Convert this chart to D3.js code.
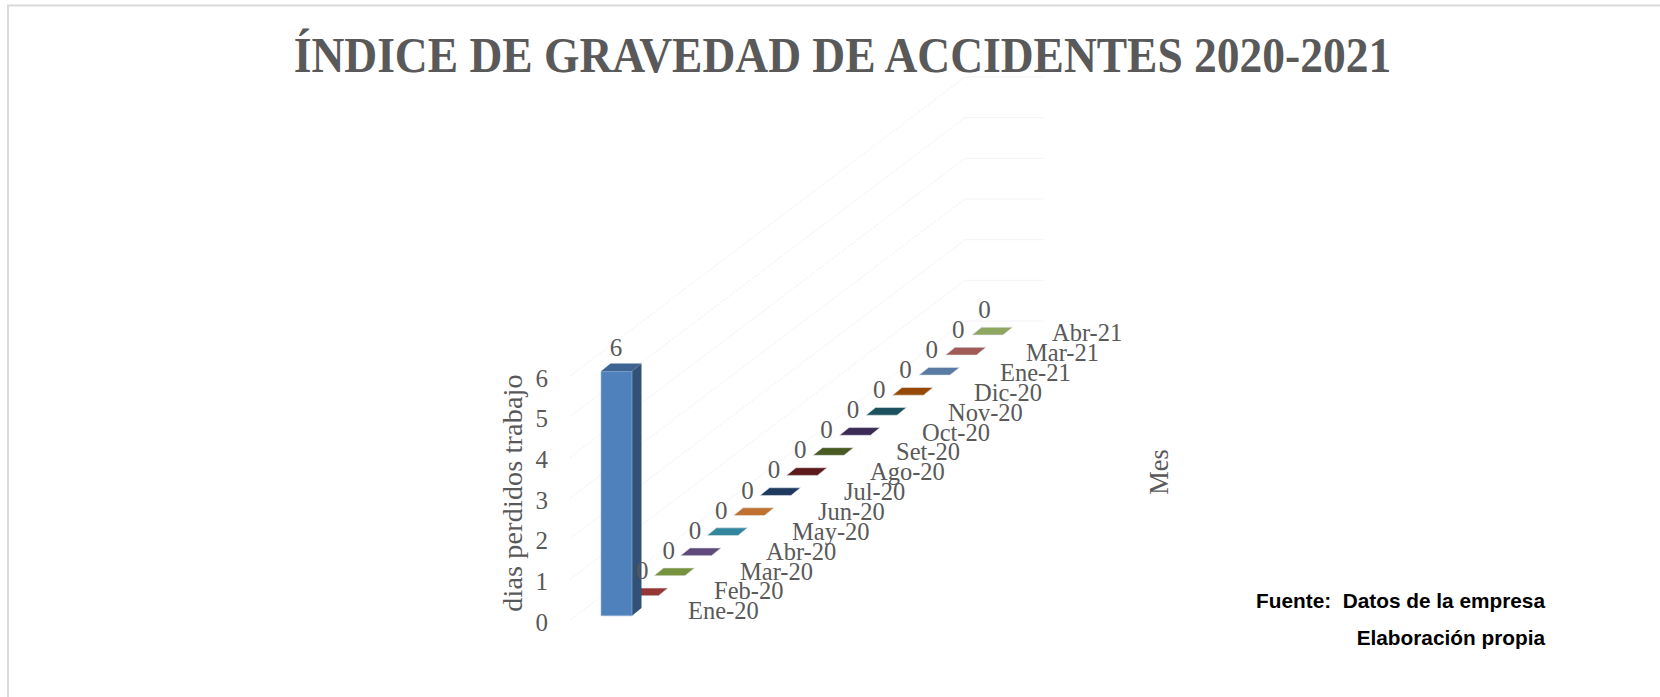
<!DOCTYPE html>
<html><head><meta charset="utf-8">
<script src="https://cdn.jsdelivr.net/npm/d3@7/dist/d3.min.js"></script>
<style>html,body{margin:0;padding:0;background:#fff}svg{display:block}</style></head>
<body><svg id="c" width="1660" height="697"></svg>
<script>
const categories=["Ene-20","Feb-20","Mar-20","Abr-20","May-20","Jun-20","Jul-20","Ago-20","Set-20","Oct-20","Nov-20","Dic-20","Ene-21","Mar-21","Abr-21"];
const values=[6,0,0,0,0,0,0,0,0,0,0,0,0,0,0];
const colors=["#4f81bd","#953735","#76923c","#604a7b","#31859c","#c0702f","#1f3a5f","#5e1a1a","#4a5a23","#3c2a55","#1c5260","#974806","#5a7ba3","#a05a58","#8fa661"];
const yTicks=[0,1,2,3,4,5,6];
const title="ÍNDICE DE GRAVEDAD DE ACCIDENTES 2020-2021";
const yTitle="dias perdidos trabajo", depthTitle="Mes";
const source=["Fuente:  Datos de la empresa","Elaboración propia"];

const svg=d3.select("#c");
const serif="'Liberation Serif',serif";
const textCol="#595959";
// frame
svg.append("path").attr("d","M8,697V5.5H1660").attr("fill","none").attr("stroke","#d9d9d9").attr("stroke-width",2);
svg.append("text").text(title).attr("text-anchor","middle").attr("transform","translate(842.5,72) scale(.91,1)")
 .attr("font-family",serif).attr("font-weight",700).attr("font-size",50).attr("fill",textCol);

const unit=d3.scaleLinear().domain([0,6]).range([0,244.5]);
const floorX=d3.scalePoint().domain(categories).range([601,972]);
const floorY=d3.scalePoint().domain(categories).range([615.8,335]);
const tickX=d3.scalePoint().domain(categories).range([688,1052]);
const tickY=d3.scalePoint().domain(categories).range([619.3,341.2]);
const valX=d3.scalePoint().domain(categories).range([616,984.5]);
const wallY=d3.scaleLinear().domain([0,6]).range([620,376]);
const line=d3.line();

// walls
const grid=svg.append("g").attr("fill","none").attr("stroke","#f3f3f3").attr("stroke-width",1);
yTicks.forEach(t=>{
  const y0=wallY(t), y1=y0-299;
  grid.append("path").attr("d",line([[570,y0],[965,y1]])).attr("stroke-dasharray","3 1");
  grid.append("path").attr("d",line([[965,y1],[1043,y1]]));
});

// bars, back to front
const w=31,dx=9.5,dy=7.7;
const order=categories.map((c,i)=>i).reverse();
order.forEach(i=>{
  const c=categories[i],x=floorX(c),b=floorY(c),h=unit(values[i]),col=d3.color(colors[i]);
  const g=svg.append("g").attr("stroke-linejoin","round");
  if(h>0){
    g.append("path").attr("d",line([[x+w,b],[x+w+dx,b-dy],[x+w+dx,b-h-dy],[x+w,b-h]])+"Z").attr("fill",col.darker(1.3));
    g.append("path").attr("d",line([[x,b],[x+w,b],[x+w,b-h],[x,b-h]])+"Z").attr("fill",col).attr("stroke","#9bb9dc").attr("stroke-width",.6);
  }
  g.append("path").attr("d",line([[x,b-h],[x+w,b-h],[x+w+dx,b-h-dy],[x+dx,b-h-dy]])+"Z")
   .attr("fill",h>0?col.darker(0.7):col).attr("stroke",h>0?"none":"#dfe6ea").attr("stroke-width",.6);
});

const label=(sel,size)=>sel.attr("font-family",serif).attr("font-size",size).attr("fill",textCol);
// data labels
categories.forEach((c,i)=>{
  const b=floorY(c),h=unit(values[i]);
  label(svg.append("text").text(values[i]),25).attr("text-anchor","middle")
   .attr("x",valX(c)).attr("y",b-h-(h>0?15:17));
});
// category labels
categories.forEach(c=>{
  label(svg.append("text").text(c),24.5).attr("x",tickX(c)).attr("y",tickY(c));
});
// value axis
const ax=svg.append("g").attr("transform","translate(550,2.3)").call(d3.axisLeft(wallY).tickValues(yTicks).tickSize(0).tickPadding(0).tickFormat(d3.format("d")));
ax.select(".domain").remove();
ax.selectAll("text").attr("font-family",serif).attr("font-size",25).attr("fill",textCol).attr("text-anchor","middle").attr("x",-8.3);
// axis titles
label(svg.append("text").text(yTitle),28).attr("letter-spacing",.2).attr("text-anchor","middle").attr("transform","translate(522,493) rotate(-90)");
label(svg.append("text").text(depthTitle),26.5).attr("text-anchor","middle").attr("transform","translate(1168,472) rotate(-90)");
// source
source.forEach((s,i)=>{
  svg.append("text").text(s).style("white-space","pre").attr("x",1545).attr("y",[607.5,644.5][i]).attr("text-anchor","end")
   .attr("font-family","'Liberation Sans',sans-serif").attr("font-weight",700).attr("font-size",20.8).attr("fill","#000");
});
</script></body></html>
